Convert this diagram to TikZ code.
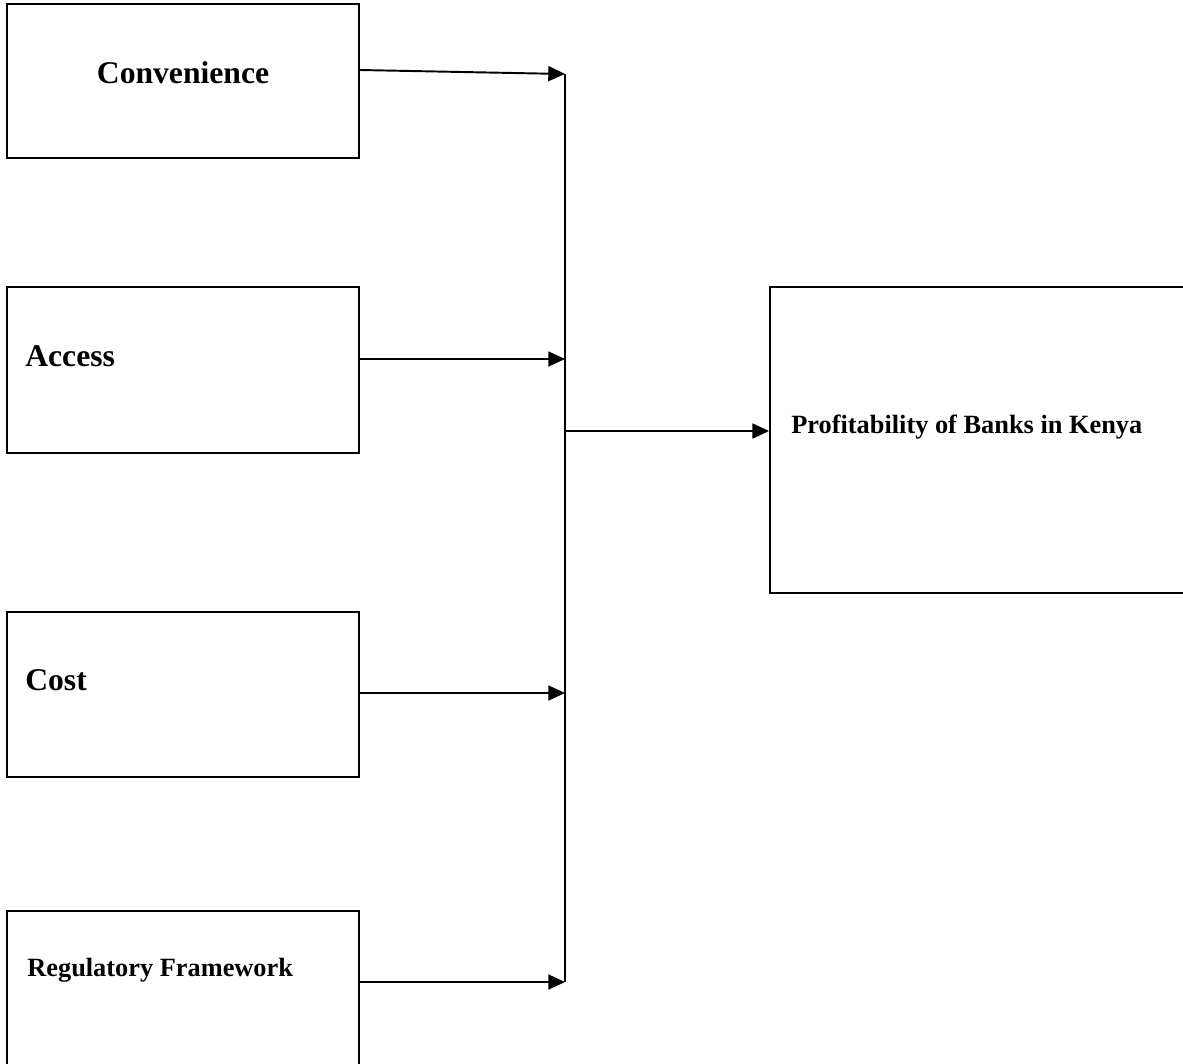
\documentclass[tikz,border=0pt]{standalone}
\usepackage{fontspec}
\setmainfont{Liberation Serif}
\usetikzlibrary{arrows.meta}

\tikzset{
  factor/.style={draw, line width=1.1pt, minimum width=7.04cm, inner sep=0pt},
  arr/.style={line width=1.1pt, -{Triangle[length=9.5pt,width=8.5pt]}},
  bigtxt/.style={font=\fontsize{18}{21}\selectfont\bfseries, inner sep=0pt},
  smalltxt/.style={font=\fontsize{15}{18}\selectfont\bfseries, inner sep=0pt}
}

\begin{document}
\begin{tikzpicture}[x=0.02cm, y=-0.02cm]
\clip (0,0) rectangle (1183,1063);
\fill[white] (0,0) rectangle (1183,1063);

% Independent variables
\node[factor, minimum height=3.08cm] (conv) at (183,81) {};
\node[factor, minimum height=3.32cm] (acc) at (183,370) {};
\node[factor, minimum height=3.30cm] (cost) at (183,694.5) {};
\node[factor, minimum height=3.30cm] (reg) at (183,993.5) {};

\node[bigtxt, anchor=base] (convtxt) at (183,83) {Convenience};
\node[bigtxt, anchor=base west] (acctxt) at (25,366) {Access};
\node[bigtxt, anchor=base west] (costtxt) at (25,690) {Cost};
\node[smalltxt, anchor=base west] (regtxt) at (27,976) {Regulatory Framework};

% Dependent variable
\node[draw, line width=1.1pt, inner sep=0pt, minimum width=8.6cm,
      minimum height=6.12cm] (prof) at (985,440) {};
\node[smalltxt, anchor=base west] (proftxt) at (791,433) {Profitability of Banks in Kenya};

% Junctions on the collecting line
\coordinate (j1) at (565,74);
\coordinate (j2) at (565,359);
\coordinate (j0) at (565,431);
\coordinate (j3) at (565,693);
\coordinate (j4) at (565,982);

\draw[line width=1.1pt] (j1) -- (j4);

% Arrows
\draw[arr] ([yshift=0.22cm]conv.east) -- (j1);
\draw[arr] (acc.east |- j2) -- (j2);
\draw[arr] (cost.east |- j3) -- (j3);
\draw[arr] (reg.east |- j4) -- (j4);
\draw[arr] (j0) -- (prof.west |- j0);

\end{tikzpicture}
\end{document}
